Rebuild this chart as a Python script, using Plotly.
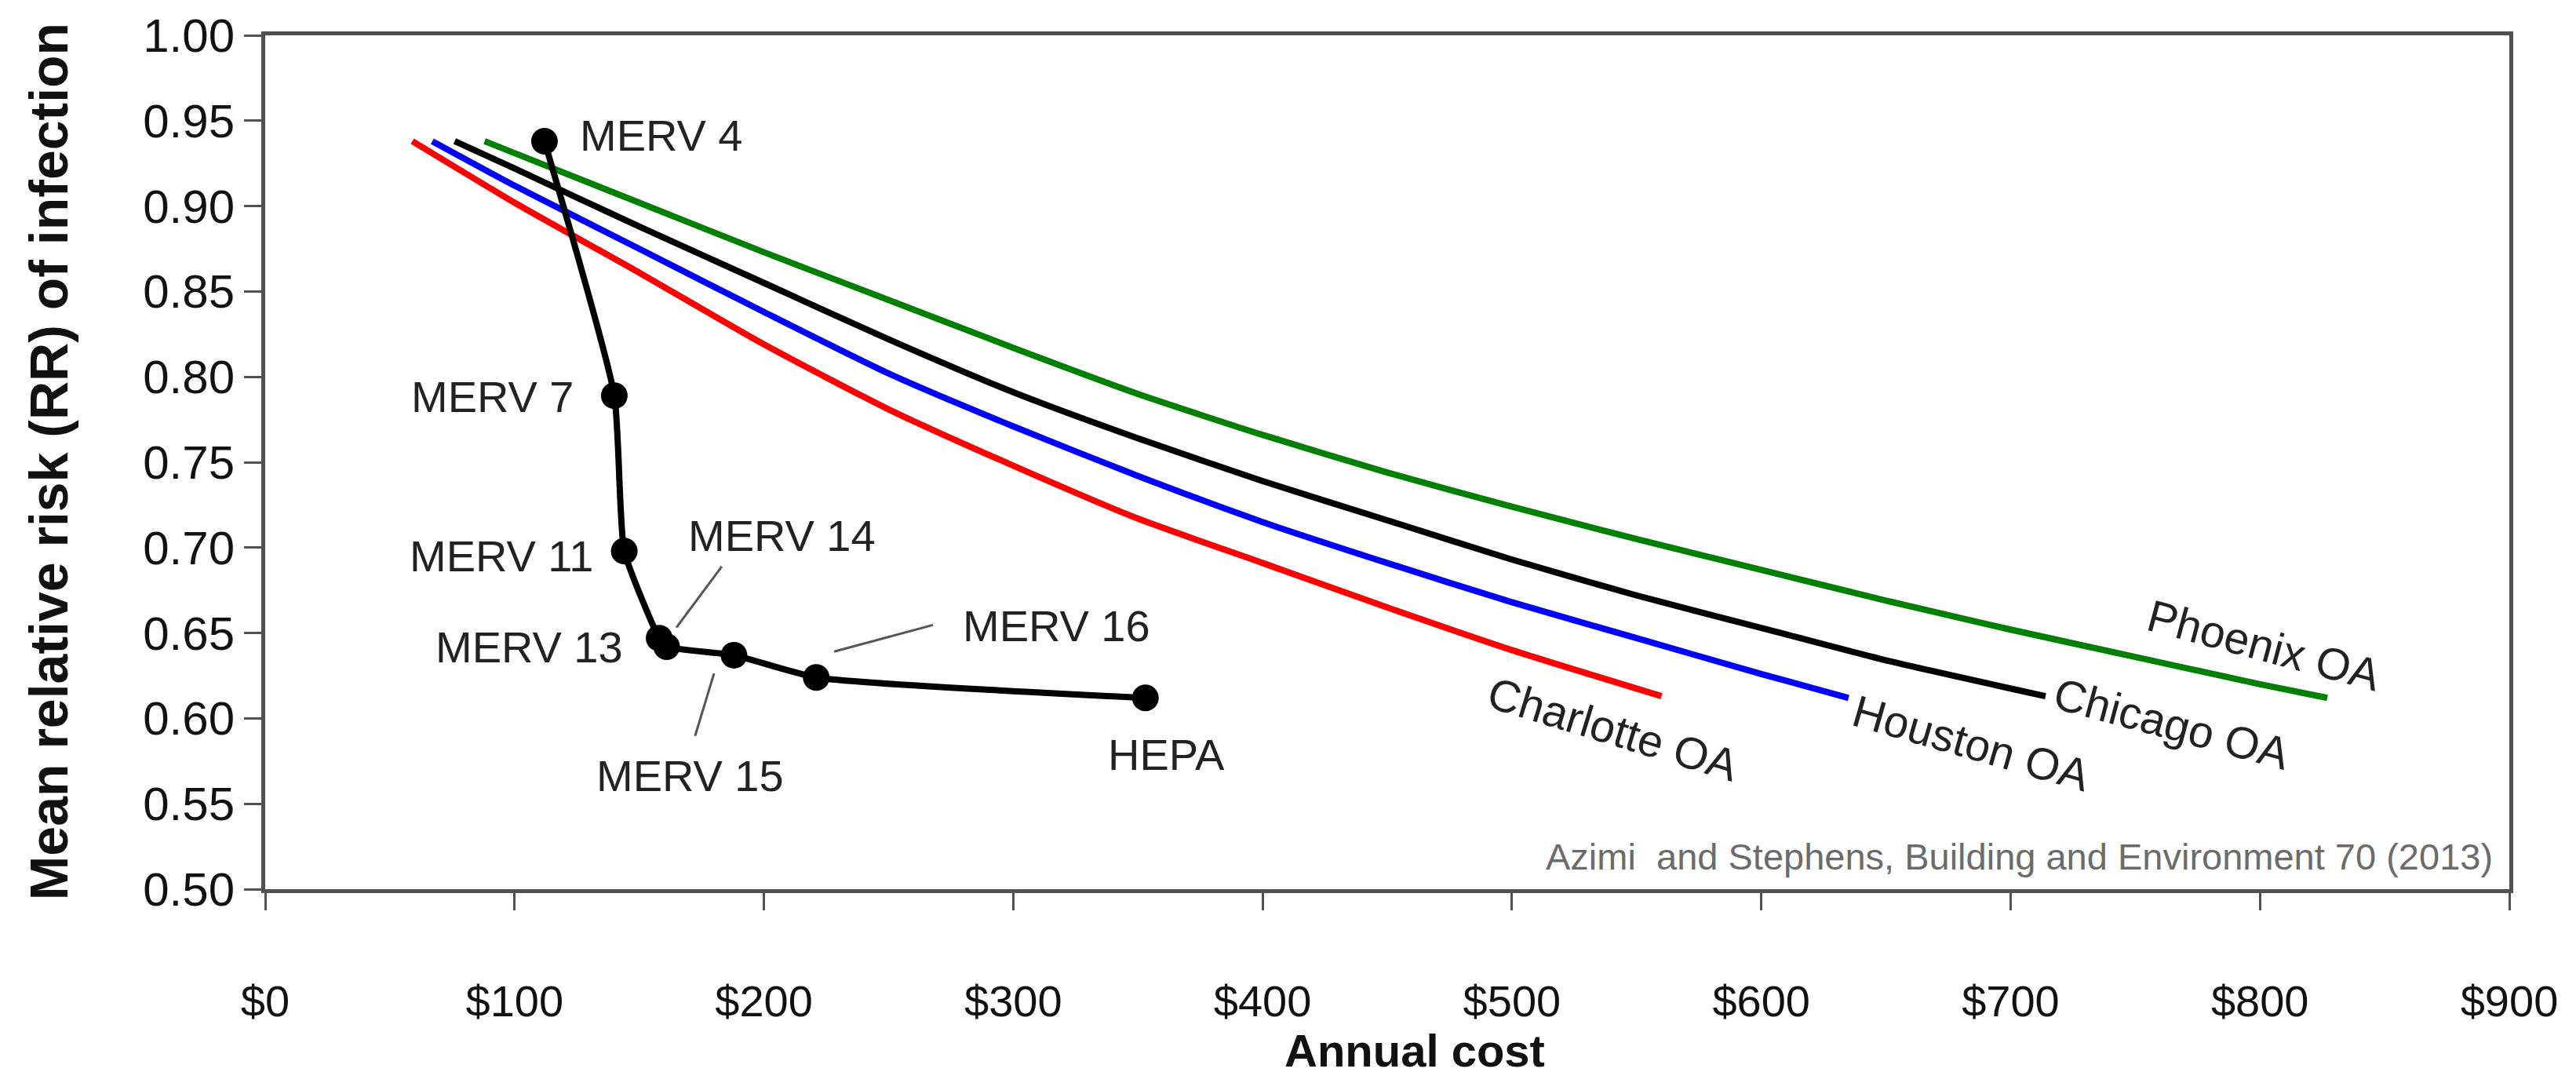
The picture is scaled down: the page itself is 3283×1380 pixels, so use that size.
import plotly.graph_objects as go

# Outdoor-air ventilation curves: annual cost ($) vs. mean relative risk
charlotte_cost = [59, 100, 150, 200, 250, 300, 350, 400, 450, 500, 560]
charlotte_rr = [0.938, 0.902, 0.861, 0.819, 0.781, 0.748, 0.717, 0.691, 0.665, 0.640, 0.613]

houston_cost = [67, 100, 150, 200, 250, 300, 350, 400, 450, 500, 550, 600, 635]
houston_rr = [0.938, 0.912, 0.875, 0.838, 0.802, 0.771, 0.742, 0.715, 0.691, 0.668, 0.647, 0.626, 0.612]

chicago_cost = [76, 100, 150, 200, 250, 300, 350, 400, 450, 500, 550, 600, 650, 714]
chicago_rr = [0.938, 0.922, 0.888, 0.855, 0.822, 0.791, 0.764, 0.739, 0.716, 0.693, 0.672, 0.653, 0.634, 0.613]

phoenix_cost = [88, 100, 150, 200, 250, 300, 350, 400, 450, 500, 550, 600, 650, 700, 750, 800, 827]
phoenix_rr = [0.938, 0.931, 0.902, 0.873, 0.845, 0.817, 0.790, 0.766, 0.744, 0.724, 0.705, 0.687, 0.669, 0.652, 0.636, 0.620, 0.612]

# Filtration options
filter_names = ["MERV 4", "MERV 7", "MERV 11", "MERV 13", "MERV 14", "MERV 15", "MERV 16", "HEPA"]
filter_cost = [112, 140, 144, 158, 161, 188, 221, 353]
filter_rr = [0.938, 0.789, 0.698, 0.647, 0.642, 0.637, 0.624, 0.612]

city_labels = ["Charlotte OA", "Houston OA", "Chicago OA", "Phoenix OA"]

x_ticks = [0, 100, 200, 300, 400, 500, 600, 700, 800, 900]
y_ticks = [0.50, 0.55, 0.60, 0.65, 0.70, 0.75, 0.80, 0.85, 0.90, 0.95, 1.00]

citation = "Azimi  and Stephens, Building and Environment 70 (2013)"

FONT = "Liberation Sans, Arial, sans-serif"
AXIS = "#505050"

fig = go.Figure()

curves = [
    (charlotte_cost, charlotte_rr, "#ff0000"),
    (houston_cost, houston_rr, "#0000ff"),
    (chicago_cost, chicago_rr, "#000000"),
    (phoenix_cost, phoenix_rr, "#008000"),
]
for (xs, ys, col), name in zip(curves, city_labels):
    fig.add_trace(go.Scatter(
        x=xs, y=ys, mode="lines", name=name,
        line=dict(color=col, width=8, shape="spline", smoothing=0.6),
        showlegend=False, hoverinfo="skip",
    ))

fig.add_trace(go.Scatter(
    x=filter_cost, y=filter_rr, mode="lines+markers", name="Filters",
    text=filter_names,
    line=dict(color="#000000", width=8, shape="spline", smoothing=0.5),
    marker=dict(color="#000000", size=34),
    showlegend=False,
))

# Filter labels: (x, y, xanchor)
filter_label_pos = {
    "MERV 4": (125.5, 0.9414, "left"),
    "MERV 7": (124.3, 0.7882, "right"),
    "MERV 11": (132.2, 0.6953, "right"),
    "MERV 13": (144.1, 0.6418, "right"),
    "MERV 14": (169.0, 0.7072, "left"),
    "MERV 16": (279.1, 0.6542, "left"),
    "MERV 15": (170.5, 0.5663, "center"),
    "HEPA": (361.5, 0.5787, "center"),
}
annotations = []
for name in filter_names:
    x, y, anc = filter_label_pos[name]
    annotations.append(dict(
        x=x, y=y, xref="x", yref="y", text=name, showarrow=False,
        xanchor=anc, yanchor="middle",
        font=dict(family=FONT, size=56, color="#222222"),
    ))

# Leader lines for the crowded filter labels
leaders = [
    ((183.1, 0.6889), (164.9, 0.6532)),
    ((267.8, 0.6547), (228.2, 0.6391)),
    ((180.0, 0.6263), (172.4, 0.5897)),
]
shapes = []
for (x0, y0), (x1, y1) in leaders:
    shapes.append(dict(type="line", xref="x", yref="y", x0=x0, y0=y0, x1=x1, y1=y1,
                       line=dict(color="#555555", width=3)))

city_label_pos = {
    "Charlotte OA": (540.6, 0.5938, 17),
    "Houston OA": (684.4, 0.5855, 16),
    "Chicago OA": (764.6, 0.5970, 15),
    "Phoenix OA": (801.5, 0.6427, 15),
}
for name in city_labels:
    x, y, ang = city_label_pos[name]
    annotations.append(dict(
        x=x, y=y, xref="x", yref="y", text=name, showarrow=False,
        textangle=ang, xanchor="center", yanchor="middle",
        font=dict(family=FONT, size=57, color="#222222"),
    ))

annotations.append(dict(
    x=894, y=0.5192, xref="x", yref="y", text=citation, showarrow=False,
    xanchor="right", yanchor="middle",
    font=dict(family=FONT, size=47, color="#6b6b6b"),
))

# Axis titles
annotations.append(dict(
    x=461, y=-0.189, xref="x", yref="paper", text="<b>Annual cost</b>", showarrow=False,
    xanchor="center", yanchor="middle",
    font=dict(family=FONT, size=58, color="#111111"),
))
annotations.append(dict(
    x=-0.0962, y=0.5005, xref="paper", yref="paper",
    text="<b>Mean relative risk (RR) of infection</b>", showarrow=False,
    textangle=-90, xanchor="center", yanchor="middle",
    font=dict(family=FONT, size=68, color="#111111"),
))

fig.update_layout(
    width=3283, height=1380,
    margin=dict(l=338, r=85, t=40, b=247),
    paper_bgcolor="white", plot_bgcolor="white",
    annotations=annotations, shapes=shapes,
    showlegend=False,
)
fig.update_xaxes(
    range=[0, 900], tickvals=x_ticks, ticktext=[f"${v}" for v in x_ticks],
    showgrid=False, zeroline=False,
    showline=True, linecolor=AXIS, linewidth=5, mirror=True,
    ticks="outside", ticklen=22, tickwidth=3, tickcolor=AXIS,
    ticklabelstandoff=68,
    tickfont=dict(family=FONT, size=56, color="#111111"),
)
fig.update_yaxes(
    range=[0.5, 1.0], tickvals=y_ticks, ticktext=[f"{v:.2f}" for v in y_ticks],
    showgrid=False, zeroline=False,
    showline=True, linecolor=AXIS, linewidth=5, mirror=True,
    ticks="outside", ticklen=22, tickwidth=3, tickcolor=AXIS,
    tickfont=dict(family=FONT, size=60, color="#111111"),
)

fig.write_html("out.html")
